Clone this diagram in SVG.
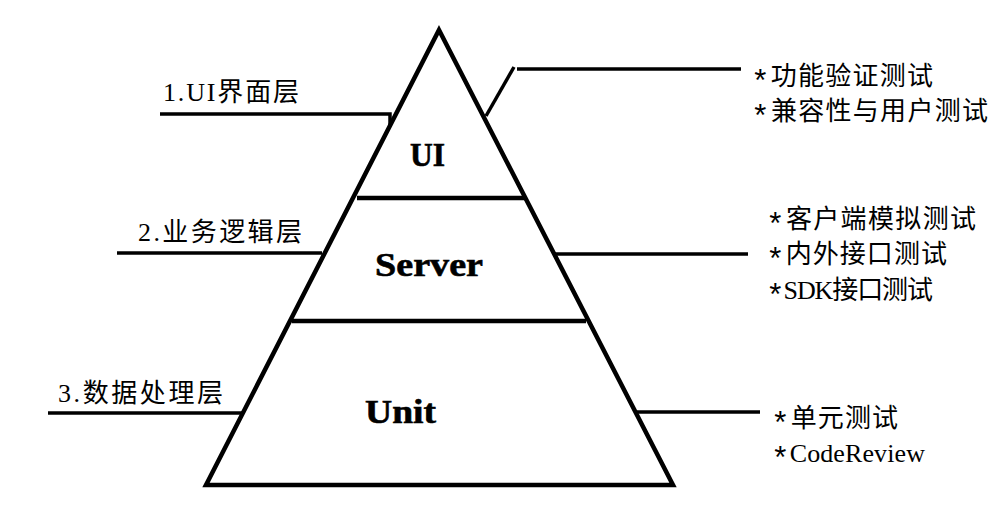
<svg xmlns="http://www.w3.org/2000/svg" width="1006" height="508" viewBox="0 0 1006 508">
<style>
.edge{fill:none;stroke:#000;stroke-width:4.5;stroke-linejoin:miter;stroke-miterlimit:20}
.div{stroke:#000;stroke-width:4.5;fill:none}
.con{stroke:#000;stroke-width:3.5;fill:none}
.layer{font-family:"Liberation Serif","Times New Roman",serif;font-weight:bold;font-size:33px;fill:#000;stroke:#000;stroke-width:0.6}
.lbl{font-family:"Liberation Serif","Noto Sans CJK SC",serif;font-size:26px;fill:#000}
.ast{font-family:"Liberation Mono",monospace;font-size:31px}
</style>
<rect width="1006" height="508" fill="#fff"/>
<g id="pyramid">
<polygon class="edge" points="439,30 673,485 206,485"/>
<line class="div" x1="357" y1="198" x2="525" y2="198"/>
<line class="div" x1="292" y1="321" x2="586" y2="321"/>
</g>
<g id="node-ui"><text class="layer" x="410" y="166" textLength="35" lengthAdjust="spacingAndGlyphs">UI</text></g>
<g id="node-server"><text class="layer" x="375" y="276" textLength="108" lengthAdjust="spacingAndGlyphs">Server</text></g>
<g id="node-unit"><text class="layer" x="365" y="423" textLength="71" lengthAdjust="spacingAndGlyphs">Unit</text></g>
<g id="connectors">
<polyline class="con" points="160,114 390,114 390,127"/>
<line class="con" x1="117" y1="253" x2="322" y2="253"/>
<line class="con" x1="48" y1="413" x2="243" y2="413"/>
<line class="con" x1="486" y1="116" x2="514" y2="67"/>
<line class="con" x1="517" y1="69" x2="741" y2="69"/>
<line class="con" x1="555" y1="254" x2="748" y2="254"/>
<line class="con" x1="635" y1="412" x2="760" y2="412"/>
</g>
<g id="label-left-1"><text class="lbl" x="163" y="101" textLength="136" lengthAdjust="spacing">1.UI界面层</text></g>
<g id="label-left-2"><text class="lbl" x="138" y="241" textLength="164" lengthAdjust="spacing">2.业务逻辑层</text></g>
<g id="label-left-3"><text class="lbl" x="58" y="402" textLength="165" lengthAdjust="spacing">3.数据处理层</text></g>
<g id="label-right-ui">
<text class="lbl" x="751" y="85" textLength="182" lengthAdjust="spacing"><tspan class="ast" dy="7">*</tspan><tspan dy="-7">功能验证测试</tspan></text>
<text class="lbl" x="751" y="120" textLength="237" lengthAdjust="spacing"><tspan class="ast" dy="7">*</tspan><tspan dy="-7">兼容性与用户测试</tspan></text>
</g>
<g id="label-right-server">
<text class="lbl" x="766" y="228" textLength="210" lengthAdjust="spacing"><tspan class="ast" dy="7">*</tspan><tspan dy="-7">客户端模拟测试</tspan></text>
<text class="lbl" x="766" y="263" textLength="181" lengthAdjust="spacing"><tspan class="ast" dy="7">*</tspan><tspan dy="-7">内外接口测试</tspan></text>
<text class="lbl" x="766" y="299" textLength="167" lengthAdjust="spacing"><tspan class="ast" dy="7">*</tspan><tspan dy="-7">SDK接口测试</tspan></text>
</g>
<g id="label-right-unit">
<text class="lbl" x="771" y="427" textLength="127" lengthAdjust="spacing"><tspan class="ast" dy="7">*</tspan><tspan dy="-7">单元测试</tspan></text>
<text class="lbl" x="771" y="462" textLength="154" lengthAdjust="spacing"><tspan class="ast" dy="7">*</tspan><tspan dy="-7">CodeReview</tspan></text>
</g>
</svg>
